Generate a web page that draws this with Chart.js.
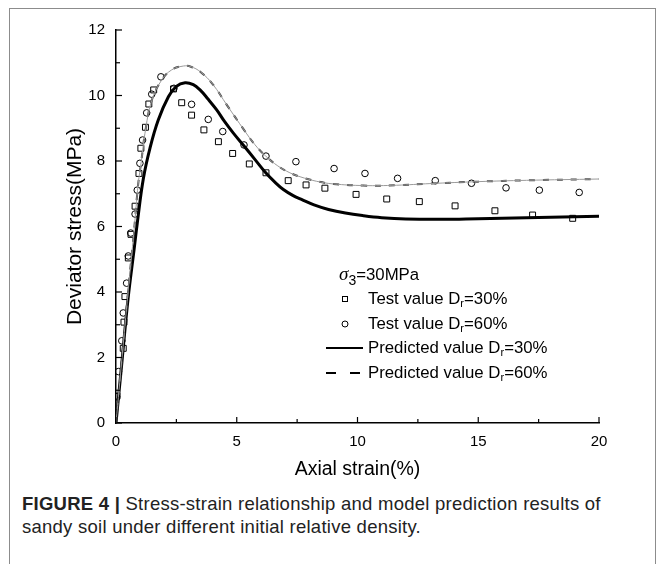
<!DOCTYPE html>
<html><head><meta charset="utf-8">
<script src="https://cdn.jsdelivr.net/npm/chart.js@4/dist/chart.umd.min.js"></script>
<style>
html,body{margin:0;padding:0;background:#fff;}
#wrap{position:relative;width:664px;height:564px;overflow:hidden;font-family:'Liberation Sans',Arial,sans-serif;}
#frame{position:absolute;left:9px;top:8px;width:645px;height:620px;border:1px solid #8c8c8c;}
#c{position:absolute;left:0;top:0;}
.leg{position:absolute;font-size:16.8px;color:#000;white-space:nowrap;line-height:20px;}
.leg sub{font-size:11px;vertical-align:-3px;line-height:0;}
.sym{position:absolute;}
#cap{position:absolute;left:22px;top:492px;font-size:18.5px;letter-spacing:0.25px;line-height:23px;color:#222;white-space:nowrap;}
</style></head>
<body><div id="wrap">
<div id="frame"></div>
<canvas id="c" width="664" height="490"></canvas>
<div class="leg" style="left:339px;top:264px;"><i style="font-family:'Liberation Serif',serif;font-size:19px;">σ</i><sub style="font-size:14px;vertical-align:-5px;">3</sub>=30MPa</div>
<svg class="sym" style="left:340px;top:294px;" width="10" height="10"><rect x="2.5" y="2.5" width="5" height="5" fill="none" stroke="#000" stroke-width="1"/></svg>
<div class="leg" style="left:368px;top:289px;">Test value D<sub>r</sub>=30%</div>
<svg class="sym" style="left:340px;top:319px;" width="10" height="10"><circle cx="5" cy="5" r="3" fill="none" stroke="#000" stroke-width="1"/></svg>
<div class="leg" style="left:368px;top:314px;">Test value D<sub>r</sub>=60%</div>
<svg class="sym" style="left:325px;top:343px;" width="40" height="10"><line x1="1" y1="5" x2="38" y2="5" stroke="#000" stroke-width="2"/></svg>
<div class="leg" style="left:368px;top:338px;">Predicted value D<sub>r</sub>=30%</div>
<svg class="sym" style="left:325px;top:368px;" width="40" height="10"><line x1="1" y1="5" x2="11" y2="5" stroke="#000" stroke-width="2"/><line x1="25" y1="5" x2="35" y2="5" stroke="#000" stroke-width="2"/></svg>
<div class="leg" style="left:368px;top:363px;">Predicted value D<sub>r</sub>=60%</div>
<div id="cap"><b>FIGURE 4 |</b> Stress-strain relationship and model prediction results of<br>sandy soil under different initial relative density.</div>
</div>
<script>
// ---- data ----
const test30X = [0.04,0.30,0.33,0.37,0.51,0.62,0.79,0.95,1.03,1.22,1.36,1.56,2.38,2.72,3.13,3.64,4.24,4.83,5.52,6.21,7.13,7.87,8.65,9.94,11.21,12.56,14.04,15.69,17.25,18.91];
const test30Y = [0.82,2.28,3.08,3.86,5.04,5.76,6.62,7.62,8.39,9.03,9.74,10.17,10.2,9.78,9.40,8.95,8.59,8.23,7.91,7.64,7.40,7.27,7.17,6.98,6.84,6.76,6.63,6.48,6.35,6.25];
const test60X = [0.03,0.10,0.24,0.30,0.44,0.51,0.61,0.79,0.88,0.99,1.10,1.27,1.48,1.86,2.40,3.13,3.82,4.42,5.30,6.21,7.45,9.03,10.31,11.66,13.22,14.72,16.15,17.53,19.18];
const test60Y = [0.80,1.57,2.51,3.36,4.27,5.10,5.80,6.38,7.11,7.93,8.64,9.47,10.04,10.57,10.22,9.73,9.27,8.90,8.49,8.15,7.98,7.77,7.62,7.47,7.40,7.32,7.18,7.11,7.04];
const pred30X = [0,0.25,0.5,0.75,0.88,1.13,1.41,1.75,2.17,2.5,2.86,3.2,3.48,3.8,4.17,4.5,4.86,5.31,5.75,6.2,6.6,6.93,7.3,7.7,8.2,8.8,9.5,10.24,11,12,13.5,15,17,20];
const pred30Y = [0,1.9,3.8,5.3,6.1,7.45,8.4,9.25,9.96,10.28,10.39,10.33,10.17,9.9,9.56,9.2,8.85,8.45,8.05,7.64,7.34,7.13,6.96,6.82,6.66,6.52,6.41,6.33,6.27,6.23,6.22,6.24,6.27,6.31];
const pred60X = [0,0.25,0.5,0.75,0.92,1.05,1.2,1.48,1.89,2.3,2.79,3.1,3.5,4.0,4.6,5.3,5.75,6.2,6.7,7.2,7.62,8.31,9.0,10.24,11.62,13,15,17,20];
const pred60Y = [0,2.0,4.0,5.9,7.3,8.0,8.85,9.85,10.47,10.78,10.9,10.88,10.72,10.35,9.7,8.95,8.5,8.15,7.85,7.64,7.52,7.38,7.30,7.25,7.26,7.31,7.37,7.41,7.45];
const xTicksMajor = [0,5,10,15,20];
const xTicksMinor = [2.5,7.5,12.5,17.5];
const yTicksMajor = [0,2,4,6,8,10,12];
const yTicksMinor = [1,3,5,7,9,11];

const pts = (xs, ys) => xs.map((x, i) => ({x, y: ys[i]}));

const tickPlugin = {
  id: 'inTicks',
  afterDraw(chart) {
    const {ctx, scales: {x, y}} = chart;
    ctx.save();
    ctx.strokeStyle = '#000';
    ctx.lineWidth = 1.2;
    const bx = y.getPixelForValue(0), left = x.getPixelForValue(0);
    const draw = (vals, len, horiz) => vals.forEach(v => {
      ctx.beginPath();
      if (horiz) { const p = x.getPixelForValue(v); ctx.moveTo(p, bx); ctx.lineTo(p, bx - len); }
      else { const p = y.getPixelForValue(v); ctx.moveTo(left, p); ctx.lineTo(left + len, p); }
      ctx.stroke();
    });
    draw(xTicksMajor, 6, true); draw(xTicksMinor, 4, true);
    draw(yTicksMajor, 6, false); draw(yTicksMinor, 4, false);
    ctx.restore();
  }
};

new Chart(document.getElementById('c'), {
  type: 'scatter',
  data: {
    datasets: [
      {label: 'pred60base', data: pts(pred60X, pred60Y), showLine: true, borderColor: '#9a9a9a', borderWidth: 1, pointRadius: 0, tension: 0.4, fill: false},
      {label: 'Predicted value Dr=60%', data: pts(pred60X, pred60Y), showLine: true, borderColor: '#444', borderWidth: 2, borderDash: [6, 8], pointRadius: 0, tension: 0.4, fill: false},
      {label: 'Predicted value Dr=30%', data: pts(pred30X, pred30Y), showLine: true, borderColor: '#000', borderWidth: 3, pointRadius: 0, tension: 0.4, fill: false},
      {label: 'Test value Dr=30%', data: pts(test30X, test30Y), pointStyle: 'rect', pointRadius: 4.2, borderColor: '#000', borderWidth: 1, backgroundColor: 'rgba(0,0,0,0)'},
      {label: 'Test value Dr=60%', data: pts(test60X, test60Y), pointStyle: 'circle', pointRadius: 3.3, borderColor: '#000', borderWidth: 1, backgroundColor: 'rgba(0,0,0,0)'}
    ]
  },
  options: {
    responsive: false, animation: false,
    layout: {padding: {left: 0, top: 30, right: 65, bottom: 0}},
    plugins: {legend: {display: false}, tooltip: {enabled: false}},
    scales: {
      x: {
        type: 'linear', min: 0, max: 20,
        afterFit: s => { s.height = 67; },
        grid: {display: true, drawOnChartArea: false, drawTicks: false},
        border: {display: true, color: '#000', width: 1.5},
        ticks: {stepSize: 5, padding: 10, color: '#000', font: {family: "'Liberation Sans', Arial", size: 15}},
        title: {display: true, text: 'Axial strain(%)', color: '#000', font: {family: "'Liberation Sans', Arial", size: 19.5}, padding: {top: 0, bottom: 9}}
      },
      y: {
        type: 'linear', min: 0, max: 12,
        afterFit: s => { s.width = 116; },
        grid: {display: true, drawOnChartArea: false, drawTicks: false},
        border: {display: true, color: '#000', width: 1.5},
        ticks: {stepSize: 2, padding: 11, color: '#000', font: {family: "'Liberation Sans', Arial", size: 15}},
        title: {display: true, text: 'Deviator stress(MPa)', color: '#000', font: {family: "'Liberation Sans', Arial", size: 21}, padding: {top: 63, bottom: 0}}
      }
    }
  },
  plugins: [tickPlugin]
});
</script>
</body></html>
